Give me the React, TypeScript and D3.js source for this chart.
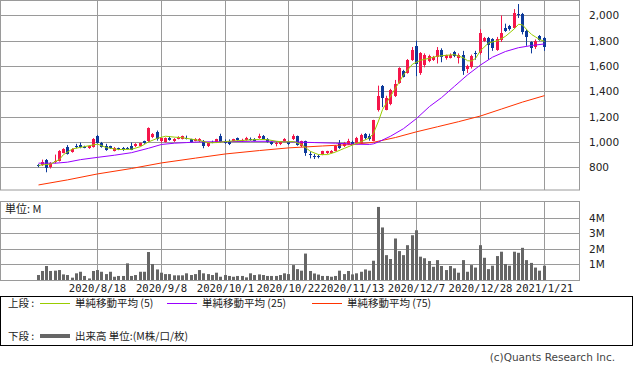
import React from "react";
import * as d3 from "d3";

// trading days shown on the chart
const dates = [
  "2020/7/28", "2020/7/29", "2020/7/30", "2020/7/31", "2020/8/3", "2020/8/4", "2020/8/5", "2020/8/6", "2020/8/7", "2020/8/11",
  "2020/8/12", "2020/8/13", "2020/8/14", "2020/8/17", "2020/8/18", "2020/8/19", "2020/8/20", "2020/8/21", "2020/8/24", "2020/8/25",
  "2020/8/26", "2020/8/27", "2020/8/28", "2020/8/31", "2020/9/1", "2020/9/2", "2020/9/3", "2020/9/4", "2020/9/7", "2020/9/8",
  "2020/9/9", "2020/9/10", "2020/9/11", "2020/9/14", "2020/9/15", "2020/9/16", "2020/9/17", "2020/9/18", "2020/9/23", "2020/9/24",
  "2020/9/25", "2020/9/28", "2020/9/29", "2020/9/30", "2020/10/1", "2020/10/2", "2020/10/5", "2020/10/6", "2020/10/7", "2020/10/8",
  "2020/10/9", "2020/10/12", "2020/10/13", "2020/10/14", "2020/10/15", "2020/10/16", "2020/10/19", "2020/10/20", "2020/10/21", "2020/10/22",
  "2020/10/23", "2020/10/26", "2020/10/27", "2020/10/28", "2020/10/29", "2020/10/30", "2020/11/2", "2020/11/4", "2020/11/5", "2020/11/6",
  "2020/11/9", "2020/11/10", "2020/11/11", "2020/11/12", "2020/11/13", "2020/11/16", "2020/11/17", "2020/11/18", "2020/11/19", "2020/11/20",
  "2020/11/24", "2020/11/25", "2020/11/26", "2020/11/27", "2020/11/30", "2020/12/1", "2020/12/2", "2020/12/3", "2020/12/4", "2020/12/7",
  "2020/12/8", "2020/12/9", "2020/12/10", "2020/12/11", "2020/12/14", "2020/12/15", "2020/12/16", "2020/12/17", "2020/12/18", "2020/12/21",
  "2020/12/22", "2020/12/23", "2020/12/24", "2020/12/25", "2020/12/28", "2020/12/29", "2020/12/30", "2021/1/4", "2021/1/5", "2021/1/6",
  "2021/1/7", "2021/1/8", "2021/1/12", "2021/1/13", "2021/1/14", "2021/1/15", "2021/1/18", "2021/1/19", "2021/1/20", "2021/1/21",
];

const opens = [
  815, 820, 860, 800, 840, 850, 915, 960, 920, 965,
  975, 960, 950, 960, 1045, 995, 970, 965, 930, 950,
  950, 950, 965, 965, 970, 1005, 1005, 1040, 1080, 1005,
  1000, 1035, 1005, 1025, 1025, 1035, 1020, 1010, 1005, 1010,
  965, 1000, 1000, 1045, 1010, 1010, 1010, 1030, 1005, 1015,
  1025, 1025, 1030, 1050, 1025, 1000, 985, 985, 1005, 1000,
  1020, 1045, 970, 1005, 905, 890, 890, 900, 910, 915,
  930, 995, 965, 980, 1000, 995, 995, 1060, 1045, 1010,
  1250, 1445, 1255, 1300, 1365, 1465, 1560, 1545, 1650, 1755,
  1545, 1610, 1640, 1650, 1670, 1730, 1660, 1665, 1710, 1660,
  1690, 1580, 1590, 1700, 1700, 1800, 1825, 1815, 1730, 1805,
  1900, 1920, 1900, 2010, 2015, 1880, 1790, 1750, 1840, 1825,
];

const highs = [
  825, 860, 865, 840, 900, 935, 950, 975, 950, 985,
  995, 970, 970, 1030, 1055, 1000, 985, 970, 960, 955,
  960, 960, 995, 990, 995, 1010, 1115, 1070, 1090, 1035,
  1035, 1045, 1030, 1045, 1050, 1050, 1025, 1030, 1030, 1015,
  995, 1010, 1025, 1065, 1020, 1020, 1025, 1035, 1025, 1040,
  1035, 1030, 1065, 1055, 1030, 1005, 1000, 1005, 1030, 1010,
  1060, 1050, 1010, 1010, 925, 905, 900, 930, 930, 935,
  975, 1015, 1000, 1025, 1010, 1040, 1065, 1070, 1065, 1175,
  1445, 1450, 1365, 1420, 1490, 1590, 1570, 1655, 1750, 1800,
  1710, 1700, 1690, 1680, 1750, 1740, 1690, 1700, 1720, 1700,
  1720, 1610, 1690, 1720, 1890, 1830, 1830, 1820, 1830, 2000,
  1935, 1925, 2050, 2090, 2020, 1890, 1795, 1810, 1845, 1830,
];

const lows = [
  800, 810, 760, 790, 830, 845, 910, 900, 915, 950,
  950, 950, 945, 955, 985, 955, 930, 945, 925, 935,
  930, 940, 935, 960, 965, 985, 1000, 1030, 1010, 995,
  995, 1010, 1000, 1020, 1020, 1020, 995, 1005, 1000, 950,
  960, 990, 995, 995, 985, 975, 1005, 1010, 1000, 1010,
  1010, 1005, 1025, 1020, 995, 975, 965, 975, 1000, 975,
  1015, 970, 960, 890, 870, 865, 870, 895, 905, 910,
  925, 945, 960, 975, 980, 990, 990, 1020, 1010, 1005,
  1240, 1275, 1250, 1290, 1355, 1460, 1510, 1540, 1640, 1520,
  1530, 1590, 1630, 1640, 1620, 1630, 1650, 1660, 1670, 1620,
  1530, 1545, 1580, 1650, 1690, 1790, 1650, 1720, 1720, 1790,
  1870, 1880, 1895, 1980, 1850, 1760, 1700, 1735, 1800, 1720,
];

const closes = [
  810, 840, 795, 830, 850, 930, 945, 905, 945, 960,
  960, 955, 965, 1025, 990, 960, 940, 950, 950, 945,
  935, 945, 940, 985, 990, 990, 1110, 1060, 1020, 1030,
  1032, 1015, 1025, 1040, 1045, 1030, 1000, 1025, 1025, 965,
  990, 995, 1020, 1000, 990, 985, 1020, 1015, 1015, 1035,
  1015, 1010, 1045, 1025, 1000, 980, 995, 1000, 1025, 980,
  1045, 975, 1005, 910, 895, 885, 885, 925, 925, 930,
  970, 950, 990, 1010, 985, 1030, 1055, 1030, 1020, 1170,
  1365, 1345, 1345, 1410, 1460, 1585, 1515, 1650, 1730, 1620,
  1700, 1690, 1680, 1670, 1730, 1670, 1685, 1690, 1680, 1690,
  1560, 1600, 1680, 1695, 1860, 1820, 1770, 1740, 1815, 1860,
  1880, 1895, 2020, 2000, 1870, 1830, 1745, 1800, 1805, 1750,
];

// volume, millions
const volumes = [
  0.32, 0.58, 0.9, 0.58, 0.6, 0.64, 0.36, 0.32, 0.15, 0.43,
  0.53, 0.26, 0.1, 0.58, 0.64, 0.53, 0.38, 0.53, 0.21, 0.26,
  0.26, 1.07, 0.26, 0.32, 0.53, 0.53, 1.8, 1.03, 0.68, 0.47,
  0.38, 0.38, 0.3, 0.3, 0.3, 0.43, 0.32, 0.38, 0.64, 0.43,
  0.38, 0.32, 0.47, 0.21, 0.32, 0.26, 0.21, 0.26, 0.26, 0.17,
  0.43, 0.32, 0.36, 0.32, 0.26, 0.26, 0.26, 0.32, 0.43, 0.38,
  0.96, 0.7, 0.6, 1.7, 0.58, 0.42, 0.35, 0.26, 0.26, 0.21,
  0.26, 0.6, 0.38, 0.58, 0.36, 0.43, 0.53, 0.68, 0.6, 1.24,
  4.7, 3.38, 1.6, 1.35, 2.67, 1.86, 1.6, 2.24, 2.88, 3.2,
  1.5, 1.4, 1.22, 0.85, 1.28, 0.9, 0.64, 0.9, 0.75, 0.47,
  1.28, 0.53, 0.96, 0.8, 2.24, 1.43, 0.7, 0.92, 1.54, 1.82,
  1.03, 0.92, 1.82, 1.75, 2.07, 1.28, 1.1, 0.8, 0.6, 0.92,
];

// moving averages
const ma5: [string, number][] = [
  ["2020/7/28", 815], ["2020/7/31", 825], ["2020/8/4", 862], ["2020/8/5", 900], ["2020/8/7", 945],
  ["2020/8/13", 963], ["2020/8/18", 983], ["2020/8/20", 955], ["2020/8/25", 940], ["2020/8/28", 942],
  ["2020/9/1", 963], ["2020/9/3", 1000], ["2020/9/7", 1029], ["2020/9/9", 1045], ["2020/9/11", 1038],
  ["2020/9/15", 1033], ["2020/9/17", 1022], ["2020/9/23", 1012], ["2020/9/25", 993], ["2020/9/29", 995],
  ["2020/10/1", 1003], ["2020/10/5", 1008], ["2020/10/7", 1012], ["2020/10/9", 1016], ["2020/10/13", 1020],
  ["2020/10/15", 1018], ["2020/10/19", 1005], ["2020/10/21", 1000], ["2020/10/23", 1003], ["2020/10/27", 980],
  ["2020/10/29", 925], ["2020/11/2", 900], ["2020/11/5", 900], ["2020/11/9", 920], ["2020/11/11", 950],
  ["2020/11/13", 975], ["2020/11/17", 1003], ["2020/11/19", 1032], ["2020/11/20", 1068], ["2020/11/24", 1165],
  ["2020/11/25", 1255], ["2020/11/26", 1310], ["2020/11/30", 1425], ["2020/12/2", 1530], ["2020/12/4", 1615],
  ["2020/12/8", 1645], ["2020/12/10", 1662], ["2020/12/14", 1678], ["2020/12/16", 1685], ["2020/12/18", 1690],
  ["2020/12/22", 1665], ["2020/12/23", 1642], ["2020/12/24", 1640], ["2020/12/25", 1660], ["2020/12/28", 1722],
  ["2020/12/30", 1782], ["2021/1/5", 1800], ["2021/1/7", 1835], ["2021/1/12", 1895], ["2021/1/13", 1930],
  ["2021/1/14", 1925], ["2021/1/15", 1890], ["2021/1/18", 1850], ["2021/1/19", 1830], ["2021/1/20", 1810],
  ["2021/1/21", 1795],
];

const ma25: [string, number][] = [
  ["2020/7/28", 832], ["2020/8/3", 832], ["2020/8/6", 840], ["2020/8/12", 860], ["2020/8/18", 878],
  ["2020/8/24", 895], ["2020/8/28", 915], ["2020/9/3", 950], ["2020/9/8", 980], ["2020/9/11", 990],
  ["2020/9/16", 995], ["2020/9/23", 1000], ["2020/10/1", 1002], ["2020/10/9", 1005], ["2020/10/16", 1005],
  ["2020/10/23", 1000], ["2020/10/30", 995], ["2020/11/9", 990], ["2020/11/13", 983], ["2020/11/19", 980],
  ["2020/11/20", 985], ["2020/11/24", 1000], ["2020/11/27", 1045], ["2020/12/2", 1105], ["2020/12/7", 1185],
  ["2020/12/10", 1280], ["2020/12/15", 1350], ["2020/12/18", 1440], ["2020/12/23", 1530], ["2020/12/28", 1608],
  ["2021/1/4", 1670], ["2021/1/7", 1715], ["2021/1/13", 1745], ["2021/1/18", 1762], ["2021/1/21", 1775],
];

const ma75: [string, number][] = [
  ["2020/7/28", 660], ["2020/8/6", 700], ["2020/8/18", 747], ["2020/8/28", 790], ["2020/9/8", 834],
  ["2020/9/18", 872], ["2020/10/1", 905], ["2020/10/13", 932], ["2020/10/22", 953], ["2020/11/4", 968],
  ["2020/11/13", 980], ["2020/11/20", 997], ["2020/11/30", 1035], ["2020/12/7", 1080], ["2020/12/14", 1120],
  ["2020/12/21", 1160], ["2020/12/28", 1205], ["2021/1/6", 1260], ["2021/1/14", 1315], ["2021/1/21", 1366],
];

const dateTicks = ["2020/8/18", "2020/9/8", "2020/10/1", "2020/10/22", "2020/11/13", "2020/12/7", "2020/12/28", "2021/1/21"];
const priceTicks = [800, 1000, 1200, 1400, 1600, 1800, 2000];
const volumeTicks = [1, 2, 3, 4];

const UP = "#f5164a";
const DOWN = "#0d3a9a";
const GRID = "#9a9a9a";
const MA_COLORS = ["#99cc00", "#9900ff", "#ff3300"];
const MA_LABELS = ["単純移動平均 (5)", "単純移動平均 (25)", "単純移動平均 (75)"];

const W = 633;
const H = 370;
const PLOT_R = 579.5;

export default function App() {
  const x = d3.scalePoint<string>().domain(dates).range([37.5, 543.5]);
  const y = d3.scaleLinear().domain([620, 2122]).range([190, 0]);
  const yv = d3.scaleLinear().domain([0, 5.05]).range([280, 201.5]);

  const cx = (d: string) => Math.round(x(d) as number);
  const line = d3
    .line<[string, number]>()
    .x((d) => cx(d[0]) + 0.5)
    .y((d) => y(d[1]));

  const numFmt = d3.format(",");
  const jp = "'Noto Sans CJK JP', sans-serif";
  const sans = "'DejaVu Sans', sans-serif";

  return (
    <svg width={W} height={H} style={{ display: "block", position: "absolute", left: 0, top: 0, background: "#fff" }}>
      {/* price panel grid */}
      <g stroke={GRID} strokeWidth={1} fill="none">
        {priceTicks.map((t) => (
          <line key={t} x1={0} x2={PLOT_R} y1={Math.round(y(t)) + 0.5} y2={Math.round(y(t)) + 0.5} />
        ))}
        {dateTicks.map((d) => (
          <line key={d} x1={cx(d) + 0.5} x2={cx(d) + 0.5} y1={0} y2={190} />
        ))}
        <rect x={0.5} y={0.5} width={PLOT_R - 0.5} height={189.5} />
      </g>

      {/* volume panel grid */}
      <g stroke={GRID} strokeWidth={1} fill="none">
        {volumeTicks.map((t) => (
          <line key={t} x1={0} x2={PLOT_R} y1={Math.round(yv(t)) + 0.5} y2={Math.round(yv(t)) + 0.5} />
        ))}
        {dateTicks.map((d) => (
          <line key={d} x1={cx(d) + 0.5} x2={cx(d) + 0.5} y1={201.5} y2={280} />
        ))}
        <rect x={0.5} y={201.5} width={PLOT_R - 0.5} height={79} />
      </g>

      {/* candles */}
      <g>
        {dates.map((d, i) => {
          const o = opens[i], c = closes[i];
          const col = c >= o ? UP : DOWN;
          const top = Math.round(y(Math.max(o, c)));
          const bot = Math.round(y(Math.min(o, c)));
          const px = cx(d);
          return (
            <g key={d}>
              <line x1={px + 0.5} x2={px + 0.5} y1={y(highs[i])} y2={y(lows[i])} stroke={col} strokeWidth={1} />
              <rect x={px - 1} y={top} width={3} height={Math.max(1, bot - top)} fill={col} />
            </g>
          );
        })}
      </g>

      {/* moving averages */}
      <g fill="none" strokeWidth={1}>
        <path d={line(ma75) || ""} stroke={MA_COLORS[2]} />
        <path d={line(ma25) || ""} stroke={MA_COLORS[1]} />
        <path d={line(ma5) || ""} stroke={MA_COLORS[0]} />
      </g>

      {/* volume bars */}
      <g fill="#666">
        {dates.map((d, i) => (
          <rect key={d} x={cx(d) - 1} y={yv(volumes[i])} width={3} height={280 - yv(volumes[i])} />
        ))}
      </g>

      {/* axis labels */}
      <g fontFamily={sans} fontSize={10.5} fill="#222">
        {priceTicks.map((t) => (
          <text key={t} x={589} y={y(t) + 4}>{numFmt(t)}</text>
        ))}
        {volumeTicks.map((t) => (
          <text key={t} x={589} y={yv(t) + 4}>{t}M</text>
        ))}
      </g>
      <g fontFamily="'DejaVu Sans Mono', monospace" fontSize={10.6} fill="#222" textAnchor="middle">
        {dateTicks.map((d) => (
          <text key={d} x={cx(d) + 0.5} y={292}>{d}</text>
        ))}
      </g>
      <text x={5} y={213} fontFamily={jp} fontSize={11} fill="#222">単位: M</text>

      {/* legend */}
      <rect x={0.5} y={296.5} width={632} height={49} fill="none" stroke="#000" strokeWidth={1} />
      <g fontFamily={jp} fontSize={10.5} fill="#222">
        <text x={8} y={307}>上段 :</text>
        {[40, 167, 312].map((lx, k) => (
          <g key={k}>
            <line x1={lx} x2={lx + 30} y1={303.5} y2={303.5} stroke={MA_COLORS[k]} strokeWidth={1} />
            <text x={lx + 35} y={307}>{MA_LABELS[k]}</text>
          </g>
        ))}
        <text x={8} y={340}>下段 :</text>
        <line x1={40} x2={70} y1={336} y2={336} stroke="#666" strokeWidth={4} />
        <text x={75} y={340}>出来高 単位:(M株/口/枚)</text>
      </g>
      <text x={615} y={361} textAnchor="end" fontFamily={sans} fontSize={10.5} fill="#444">
        (c)Quants Research Inc.
      </text>
    </svg>
  );
}
